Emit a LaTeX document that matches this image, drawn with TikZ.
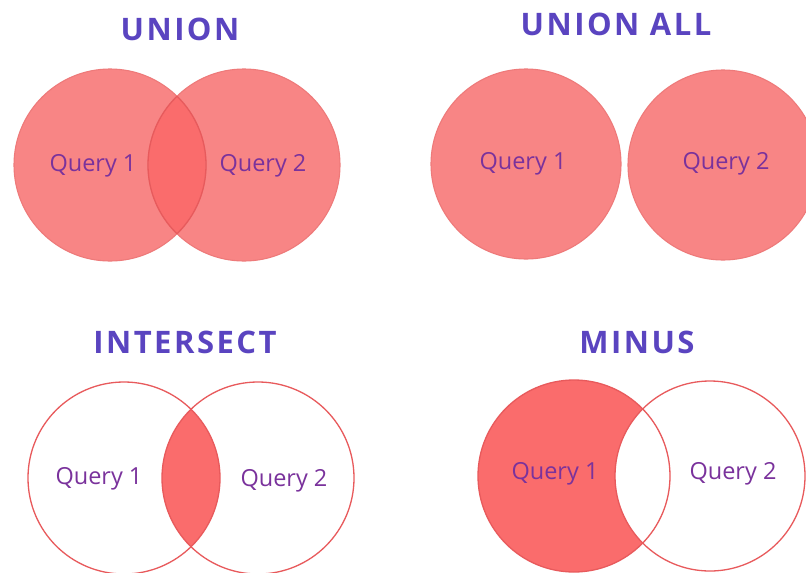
\documentclass[tikz,border=0pt]{standalone}
\usepackage{fontspec}
\setmainfont{Open Sans}
\newfontfamily\titlefont[LetterSpace=8]{Open Sans}
\definecolor{fillc}{HTML}{F88585}
\definecolor{lensc}{HTML}{FA6C6C}
\definecolor{ringc}{HTML}{E85A5C}
\definecolor{ringl}{HTML}{EE7A7A}
\definecolor{titlec}{HTML}{5A44C0}
\definecolor{labelc}{HTML}{7A329C}
\begin{document}
\begin{tikzpicture}[x=1pt,y=-1pt,
  title/.style={text=titlec, font=\titlefont\bfseries\fontsize{31}{31}\selectfont, inner sep=0pt},
  lbl/.style={text=labelc, font=\fontsize{23.5}{23.5}\selectfont, inner sep=0pt},
  ring/.style={draw=ringc, line width=1.3pt},
  ringsoft/.style={draw=ringl, line width=1.1pt}]
\fill[white] (0,0) rectangle (806,573);
\useasboundingbox (0,0) rectangle (806,573);

% ---------- UNION ----------
\coordinate (u1) at (110,165);
\coordinate (u2) at (244,165);
\fill[fillc] (u1) circle[radius=96pt];
\fill[fillc] (u2) circle[radius=96pt];
\begin{scope}
  \clip (u1) circle[radius=96pt];
  \fill[lensc] (u2) circle[radius=96pt];
\end{scope}
\draw[ringsoft] (u1) circle[radius=96pt];
\draw[ringsoft] (u2) circle[radius=96pt];
\begin{scope}
  \clip (u1) circle[radius=96pt];
  \draw[ring] (u2) circle[radius=96pt];
\end{scope}
\begin{scope}
  \clip (u2) circle[radius=96pt];
  \draw[ring] (u1) circle[radius=96pt];
\end{scope}
\node[title] (tunion) at (180,29) {UNION};
\node[lbl] (uq1) at (93,166) {Query 1};
\node[lbl] (uq2) at (263,166) {Query 2};

% ---------- UNION ALL ----------
\coordinate (a1) at (526,164);
\coordinate (a2) at (723,165);
\fill[fillc] (a1) circle[radius=95pt];
\fill[fillc] (a2) circle[radius=95pt];
\draw[ringsoft] (a1) circle[radius=95pt];
\draw[ringsoft] (a2) circle[radius=95pt];
\node[title] (tall) at (616,24) {UNION ALL};
\node[lbl] (aq1) at (523,164) {Query 1};
\node[lbl] (aq2) at (726,164) {Query 2};

% ---------- INTERSECT ----------
\coordinate (i1) at (124,478);
\coordinate (i2) at (258,478);
\begin{scope}
  \clip (i1) circle[radius=96pt];
  \fill[lensc] (i2) circle[radius=96pt];
\end{scope}
\draw[ring] (i1) circle[radius=96pt];
\draw[ring] (i2) circle[radius=96pt];
\node[title] (tint) at (185,342) {INTERSECT};
\node[lbl] (iq1) at (99,479) {Query 1};
\node[lbl] (iq2) at (284,481) {Query 2};

% ---------- MINUS ----------
\coordinate (m1) at (574,476);
\coordinate (m2) at (710,476);
\begin{scope}[even odd rule]
  \clip (m1) circle[radius=96pt];
  \fill[lensc] (m1) circle[radius=96pt] (m2) circle[radius=95pt];
\end{scope}
\draw[ring] (m1) circle[radius=96pt];
\draw[ring] (m2) circle[radius=95pt];
\node[title] (tminus) at (637,342) {MINUS};
\node[lbl] (mq1) at (555,474) {Query 1};
\node[lbl] (mq2) at (733,474) {Query 2};
\end{tikzpicture}
\end{document}
